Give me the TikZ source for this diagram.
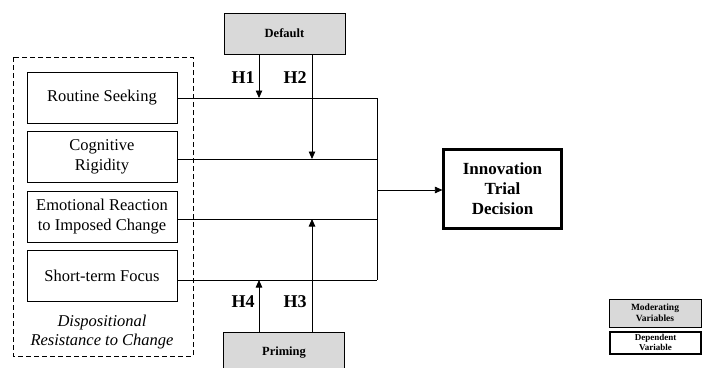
\documentclass[tikz,border=0pt]{standalone}
\usepackage{fontspec}
\setmainfont{Liberation Serif}
\usetikzlibrary{arrows.meta}
\definecolor{modgray}{HTML}{D9D9D9}
\tikzset{
  ln/.style={line width=0.8pt},
  arr/.style={line width=0.8pt,-{Triangle[length=7.5pt,width=6.5pt]}},
  ivbox/.style={draw,line width=0.9pt,minimum width=150pt,minimum height=51pt,align=center,inner sep=1pt,font=\fontsize{16.5}{20}\selectfont},
  modbox/.style={draw,line width=0.9pt,fill=modgray,minimum width=121pt,minimum height=41pt,font=\fontsize{12.5}{15}\selectfont\bfseries},
  depbox/.style={draw,line width=2.2pt,minimum width=118pt,minimum height=79pt,align=center,font=\fontsize{17}{20}\selectfont\bfseries},
  hlab/.style={font=\fontsize{18}{20}\selectfont\bfseries},
  legmod/.style={draw,line width=0.9pt,fill=modgray,minimum width=92pt,minimum height=28pt,align=center,inner sep=0pt,font=\fontsize{9.5}{11.5}\selectfont\bfseries},
  legdep/.style={draw,line width=2pt,minimum width=91pt,minimum height=22pt,align=center,inner sep=0pt,font=\fontsize{9}{10.5}\selectfont\bfseries},
}
\begin{document}
\begin{tikzpicture}[x=1pt,y=-1pt]
\useasboundingbox (0,0) rectangle (703,367);
\clip (0,0) rectangle (703,367);
% dashed group
\draw[line width=1pt,dash pattern=on 5pt off 3pt] (13,57) rectangle (193,356);
\node (rs) [ivbox] at (102,97.5) {Routine Seeking};
\node (cr) [ivbox] at (102,156.5) {Cognitive\\Rigidity};
\node (er) [ivbox] at (102,217) {Emotional Reaction\\to Imposed Change};
\node (sf) [ivbox] at (102,275.5) {Short-term Focus};
\node (drc) [align=center,font=\fontsize{16.5}{19}\selectfont\itshape] at (102,332) {Dispositional\\Resistance to Change};
% moderators
\node (def) [modbox] at (284.5,33.5) {Default};
\node (pri) [modbox] at (284,352.5) {Priming};
% dependent
\node (itd) [depbox] at (502.5,189) {Innovation\\Trial\\Decision};
% coordinates on lines
\coordinate (l1) at (377,98);
\coordinate (l2) at (377,159);
\coordinate (l3) at (377,219);
\coordinate (l4) at (377,280);
\coordinate (bar) at (377,190);
\coordinate (p1) at (259,98);
\coordinate (p2) at (312,159);
\coordinate (p3) at (312,219);
\coordinate (p4) at (259,280);
% lines
\draw[ln] (rs.east |- l1) -- (l1);
\draw[ln] (cr.east |- l2) -- (l2);
\draw[ln] (er.east |- l3) -- (l3);
\draw[ln] (sf.east |- l4) -- (l4);
\draw[ln] (l1) -- (l4);
\draw[arr] (bar) -- (bar -| itd.west);
% moderating arrows
\draw[arr] (def.south -| p1) -- (p1);
\draw[arr] (def.south -| p2) -- (p2);
\draw[arr] (pri.north -| p3) -- (p3);
\draw[arr] (pri.north -| p4) -- (p4);
\node (h1) [hlab] at (243,78) {H1};
\node (h2) [hlab] at (295,78) {H2};
\node (h4) [hlab] at (243,302) {H4};
\node (h3) [hlab] at (295,302) {H3};
% legend
\node (lm) [legmod] at (655,313) {Moderating\\Variables};
\node (ld) [legdep] at (655.5,342.5) {Dependent\\Variable};
\end{tikzpicture}
\end{document}
